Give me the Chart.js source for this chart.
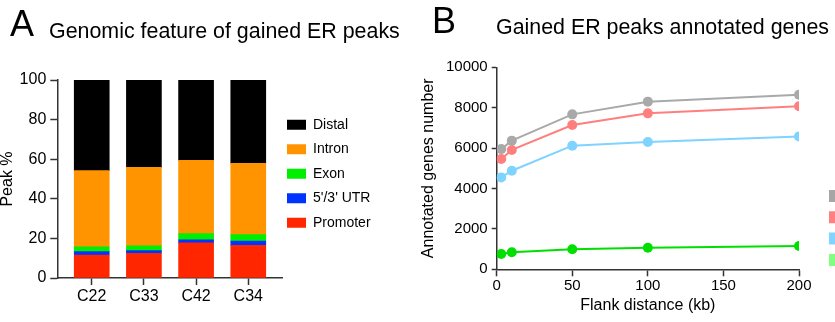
<!DOCTYPE html>
<html>
<head>
<meta charset="utf-8">
<script src="https://cdn.jsdelivr.net/npm/chart.js@4.4.0/dist/chart.umd.min.js"></script>
<style>
    html, body { margin: 0; padding: 0; background: #fff; overflow: hidden; }
    body { width: 835px; height: 322px; position: relative; font-family: 'Liberation Sans', Arial, sans-serif; color: #000; }
    canvas { position: absolute; top: 0; }
    #chartA { left: 0; }
    #chartB { left: 415px; }
    .lbl { position: absolute; white-space: nowrap; line-height: 1; }
    .big { font-size: 36px; }
    .ttl { font-size: 21.4px; }
</style>
</head>
<body>
<canvas id="chartA" width="420" height="322"></canvas>
<canvas id="chartB" width="470" height="322"></canvas>
<div class="lbl big" style="left:10px; top:5.5px;">A</div>
<div class="lbl ttl" style="left:49px; top:21px;">Genomic feature of gained ER peaks</div>
<div class="lbl big" style="left:432px; top:2.5px;">B</div>
<div class="lbl ttl" style="left:496px; top:17px;">Gained ER peaks annotated genes</div>
<script>
// Panel A - genomic feature share (%) per sample
const categories = ['C22', 'C33', 'C42', 'C34'];
const promoterPct = [11.6, 12.5, 17.7, 16.5];
const utrPct = [1.7, 1.3, 1.6, 2.2];
const exonPct = [2.5, 2.4, 3.1, 3.2];
const intronPct = [38.4, 39.7, 37.0, 36.0];
const distalPct = [45.8, 44.1, 40.6, 42.1];
const pctTicks = [0, 20, 40, 60, 80, 100];

// Panel B - annotated genes vs flank distance
const flankKb = [3, 10, 50, 100, 200];
const seriesNames = ['C22', 'C33', 'C42', 'C34'];
const grayGenes = [5950, 6370, 7670, 8300, 8640];
const redGenes = [5460, 5910, 7140, 7720, 8070];
const blueGenes = [4550, 4880, 6120, 6300, 6580];
const greenGenes = [760, 840, 990, 1070, 1150];
const kbTicks = [0, 50, 100, 150, 200];
const geneTicks = [0, 2000, 4000, 6000, 8000, 10000];

Chart.defaults.font.family = "'Liberation Sans', Arial, sans-serif";
Chart.defaults.color = '#000';
Chart.defaults.animation = false;

const axisColor = '#333';

// puts the legend at a fixed spot (legend sits over the chart area)
const legendSpot = {
    id: 'legendSpot',
    afterLayout(chart, args, opts) {
        let lg = chart.legend;
        if (!lg || opts.x === undefined) return;
        let w = lg.width;
        lg.left = opts.x;
        lg.right = opts.x + w;
        lg.top = opts.y;
        lg.bottom = opts.y + 400;
    }
};

function pts(xs, ys) {
    return ys.map((y, i) => ({x: xs[i], y: y}));
}

function useTicks(values) {
    return function(scale) {
        scale.ticks = values.map(v => ({value: v}));
    };
}

// ---------- A ----------
const idx = categories.map((c, i) => i);
const barSets = [
    {label: 'Promoter', data: pts(idx, promoterPct), backgroundColor: '#ff2600'},
    {label: "5'/3' UTR", data: pts(idx, utrPct), backgroundColor: '#0033ff'},
    {label: 'Exon', data: pts(idx, exonPct), backgroundColor: '#00ee00'},
    {label: 'Intron', data: pts(idx, intronPct), backgroundColor: '#ff9400'},
    {label: 'Distal', data: pts(idx, distalPct), backgroundColor: '#000000'}
];
barSets.forEach(ds => { ds.barThickness = 35; ds.borderWidth = 0; });

new Chart(document.getElementById('chartA'), {
    type: 'bar',
    data: {datasets: barSets},
    plugins: [legendSpot],
    options: {
        responsive: false,
        layout: {padding: {left: 0, top: 80, right: 137.3, bottom: 0}},
        scales: {
            x: {
                type: 'linear',
                stacked: true,
                offset: false,
                min: -0.66,
                max: 3.66,
                afterBuildTicks: useTicks(idx),
                afterFit: (s) => { s.height = 44; },
                grid: {offset: false, drawOnChartArea: false, tickLength: 7, tickColor: axisColor, tickWidth: 1.5},
                border: {color: axisColor, width: 1.5},
                ticks: {font: {size: 16}, padding: 2, callback: (v) => categories[v] ?? ''}
            },
            y: {
                stacked: true,
                min: 0,
                max: 100,
                afterBuildTicks: useTicks(pctTicks),
                afterFit: (s) => { s.width = 57.3; },
                grid: {drawOnChartArea: false, tickLength: 7, tickColor: axisColor, tickWidth: 1.5},
                border: {color: axisColor, width: 1.5},
                ticks: {font: {size: 16}, padding: 4},
                title: {display: true, text: 'Peak %', font: {size: 16, lineHeight: 1}, padding: {top: 0, bottom: 0}}
            }
        },
        plugins: {
            legend: {
                position: 'chartArea',
                align: 'start',
                reverse: true,
                labels: {boxWidth: 19, boxHeight: 10, padding: 10.5, font: {size: 14}}
            },
            legendSpot: {x: 276.5, y: 107.2},
            tooltip: {enabled: false}
        }
    }
});

// ---------- B ----------
const lineColors = ['#a9a9a9', '#ff7f7f', '#7fd3ff', '#00e000'];
const legendFills = ['#a6a6a6', '#ff8080', '#80d4ff', '#80ff80'];
const geneSeries = [grayGenes, redGenes, blueGenes, greenGenes];

const lineSets = geneSeries.map((vals, i) => ({
    label: seriesNames[i],
    data: pts(flankKb, vals),
    borderColor: lineColors[i],
    backgroundColor: lineColors[i],
    pointBackgroundColor: lineColors[i],
    pointBorderWidth: 0,
    pointRadius: 5,
    borderWidth: 2,
    fill: false,
    tension: 0
}));

new Chart(document.getElementById('chartB'), {
    type: 'line',
    data: {datasets: lineSets},
    plugins: [legendSpot],
    options: {
        responsive: false,
        layout: {padding: {left: 0, top: 67.3, right: 86, bottom: 8.7}},
        scales: {
            x: {
                type: 'linear',
                min: 0,
                max: 200,
                afterBuildTicks: useTicks(kbTicks),
                afterFit: (s) => { s.height = 44; },
                grid: {drawOnChartArea: false, tickLength: 7, tickColor: axisColor, tickWidth: 1.5},
                border: {color: axisColor, width: 1.5},
                ticks: {font: {size: 15}, padding: 1},
                title: {display: true, text: 'Flank distance (kb)', font: {size: 16, lineHeight: 1}, padding: {top: 0, bottom: 0}}
            },
            y: {
                min: 0,
                max: 10000,
                afterBuildTicks: useTicks(geneTicks),
                afterFit: (s) => { s.width = 81.7; },
                grid: {drawOnChartArea: false, tickLength: 5, tickColor: axisColor, tickWidth: 1.5},
                border: {color: axisColor, width: 1.5},
                ticks: {font: {size: 15}, padding: 4, callback: (v) => String(v)},
                title: {display: true, text: 'Annotated genes number', font: {size: 16, lineHeight: 1}, padding: {top: 5.5, bottom: 0}}
            }
        },
        plugins: {
            legend: {
                position: 'chartArea',
                align: 'start',
                labels: {
                    boxWidth: 20,
                    boxHeight: 12,
                    padding: 8.3,
                    font: {size: 13},
                    generateLabels: (chart) => chart.data.datasets.map((ds, i) => ({
                        text: ds.label,
                        fillStyle: legendFills[i],
                        strokeStyle: legendFills[i],
                        lineWidth: 0,
                        hidden: false,
                        datasetIndex: i
                    }))
                }
            },
            legendSpot: {x: 405.7, y: 181.2},
            tooltip: {enabled: false}
        }
    }
});
</script>
</body>
</html>
